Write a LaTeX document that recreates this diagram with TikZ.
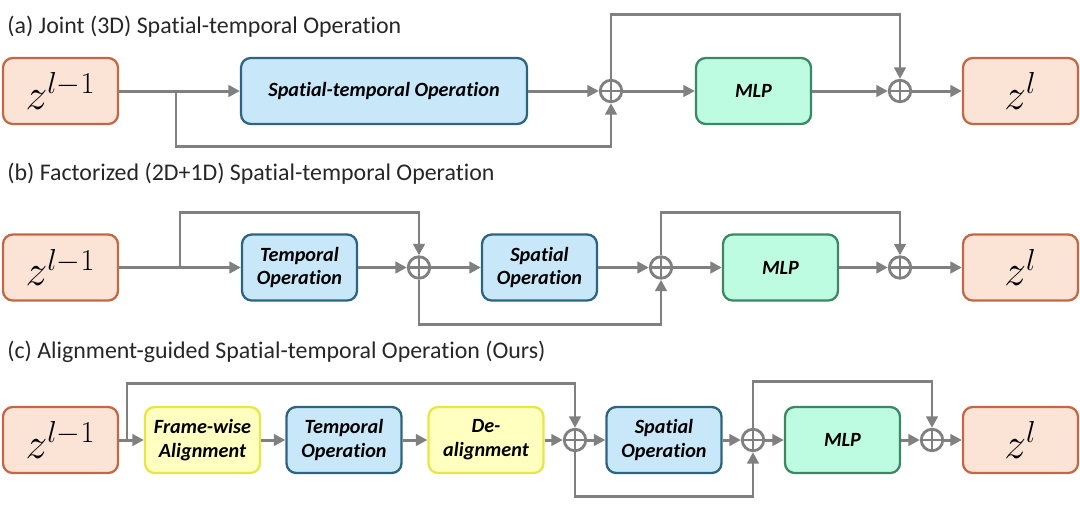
\documentclass[tikz,border=0pt]{standalone}
\usepackage{fontspec}
\setmainfont{Carlito}[Ligatures=NoCommon]
\usetikzlibrary{arrows.meta}
\definecolor{lineGray}{RGB}{128,128,128}
\definecolor{zFill}{RGB}{251,227,214}
\definecolor{zEdge}{RGB}{193,105,70}
\definecolor{opFill}{RGB}{200,232,250}
\definecolor{opEdge}{RGB}{45,100,130}
\definecolor{mlpFill}{RGB}{190,252,225}
\definecolor{mlpEdge}{RGB}{60,135,100}
\definecolor{alFill}{RGB}{255,255,192}
\definecolor{alEdge}{RGB}{230,230,70}

\tikzset{
  box/.style={draw, rounded corners=5.5pt, line width=1.3pt, minimum height=1.32cm,
    minimum width=2.3cm, inner sep=0pt, align=center,
    font=\fontsize{11.5}{13.5}\selectfont\bfseries\itshape},
  zbox/.style={box, draw=zEdge, fill=zFill, font=\fontsize{23}{25}\selectfont},
  opbox/.style={box, draw=opEdge, fill=opFill},
  mlpbox/.style={box, draw=mlpEdge, fill=mlpFill},
  albox/.style={box, draw=alEdge, fill=alFill},
  plus/.style={circle, draw=lineGray, line width=1.6pt, minimum size=0.43cm, inner sep=0pt,
    path picture={\draw[lineGray, line width=1.6pt]
      (path picture bounding box.north) -- (path picture bounding box.south)
      (path picture bounding box.west) -- (path picture bounding box.east);}},
  link/.style={draw=lineGray, line width=1.7pt, -{Triangle[length=6.5pt,width=6.5pt]}},
  caption/.style={anchor=base west, inner sep=0pt, text=black!85,
    font=\fontsize{13.6}{15}\selectfont}
}

\begin{document}
\begin{tikzpicture}[x=0.02cm, y=-0.02cm]
  \useasboundingbox (0,0) rectangle (1080,512);

  % (a) joint
  \node[caption] (ta) at (7,33) {(a) Joint (3D) Spatial-temporal Operation};
  \node[zbox] (za) at (60.5,91) {$z^{l-1}$};
  \node[opbox, minimum width=5.72cm] (sta) at (384,91) {Spatial-temporal Operation};
  \node[plus] (pa1) at (611,91) {};
  \node[mlpbox] (mlpa) at (753.5,91) {MLP};
  \node[plus] (pa2) at (900,91) {};
  \node[zbox] (zla) at (1020.5,91) {$z^{l}$};
  \coordinate (ba) at (176,91);
  \draw[link] (za) -- (sta);
  \draw[link] (sta) -- (pa1);
  \draw[link] (ba) -- ++(0,55) -| (pa1.south);
  \draw[link] (pa1) -- (mlpa);
  \draw[link] (pa1.north) -- ++(0,-64) -| (pa2.north);
  \draw[link] (mlpa) -- (pa2);
  \draw[link] (pa2) -- (zla);

  % (b) factorized
  \node[caption] (tb) at (7,180) {(b) Factorized (2D+1D) Spatial-temporal Operation};
  \node[zbox] (zb) at (60.5,267.5) {$z^{l-1}$};
  \node[opbox] (tob) at (299.5,267.5) {Temporal\\Operation};
  \node[plus] (pb1) at (419,267.5) {};
  \node[opbox] (spb) at (539.5,267.5) {Spatial\\Operation};
  \node[plus] (pb2) at (661,267.5) {};
  \node[mlpbox] (mlpb) at (780.5,267.5) {MLP};
  \node[plus] (pb3) at (900,267.5) {};
  \node[zbox] (zlb) at (1020.5,267.5) {$z^{l}$};
  \coordinate (bb) at (180,267.5);
  \draw[link] (zb) -- (tob);
  \draw[link] (bb) -- ++(0,-55) -| (pb1.north);
  \draw[link] (tob) -- (pb1);
  \draw[link] (pb1) -- (spb);
  \draw[link] (pb1.south) -- ++(0,45) -| (pb2.south);
  \draw[link] (spb) -- (pb2);
  \draw[link] (pb2) -- (mlpb);
  \draw[link] (pb2.north) -- ++(0,-43) -| (pb3.north);
  \draw[link] (mlpb) -- (pb3);
  \draw[link] (pb3) -- (zlb);

  % (c) alignment-guided
  \node[caption] (tc) at (7,358) {(c) Alignment-guided Spatial-temporal Operation (Ours)};
  \node[zbox] (zc) at (60.5,440) {$z^{l-1}$};
  \node[albox] (fwc) at (202.5,440) {Frame-wise\\Alignment};
  \node[opbox] (toc) at (344,440) {Temporal\\Operation};
  \node[albox] (dac) at (486,440) {De-\\alignment};
  \node[plus] (pc1) at (575,440) {};
  \node[opbox] (spc) at (664,440) {Spatial\\Operation};
  \node[plus] (pc2) at (753,440) {};
  \node[mlpbox] (mlpc) at (842.5,440) {MLP};
  \node[plus] (pc3) at (932,440) {};
  \node[zbox] (zlc) at (1020.5,440) {$z^{l}$};
  \coordinate (bc) at (127,440);
  \draw[link] (zc) -- (fwc);
  \draw[link] (bc) -- ++(0,-57) -| (pc1.north);
  \draw[link] (fwc) -- (toc);
  \draw[link] (toc) -- (dac);
  \draw[link] (dac) -- (pc1);
  \draw[link] (pc1) -- (spc);
  \draw[link] (pc1.south) -- ++(0,44) -| (pc2.south);
  \draw[link] (spc) -- (pc2);
  \draw[link] (pc2) -- (mlpc);
  \draw[link] (pc2.north) -- ++(0,-46) -| (pc3.north);
  \draw[link] (mlpc) -- (pc3);
  \draw[link] (pc3) -- (zlc);
\end{tikzpicture}
\end{document}
